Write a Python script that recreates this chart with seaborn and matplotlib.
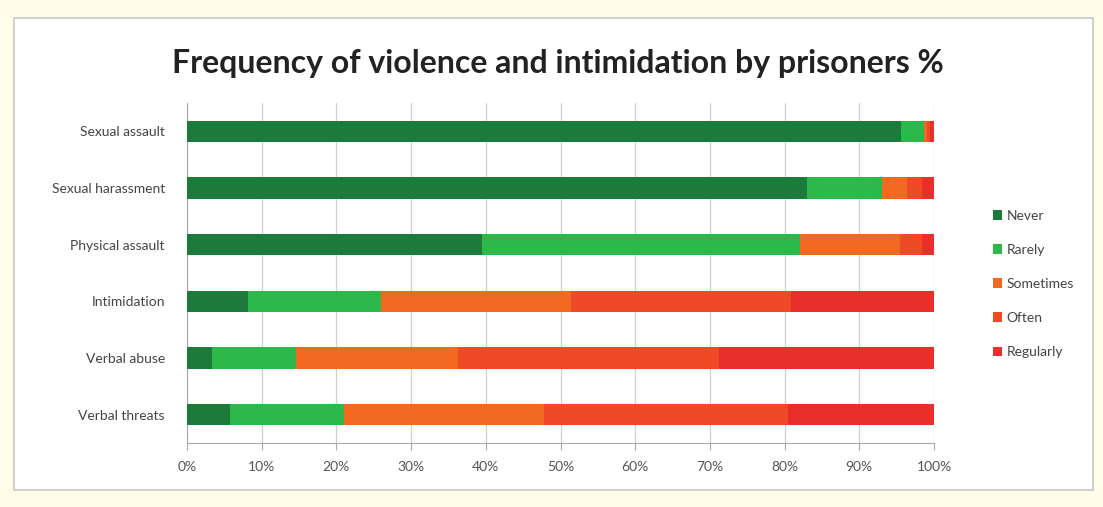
import matplotlib
matplotlib.use("Agg")
import matplotlib.pyplot as plt
from matplotlib.patches import Rectangle, Patch
import seaborn as sns
import pandas as pd
import numpy as np

categories = ["Sexual assault", "Sexual harassment", "Physical assault",
              "Intimidation", "Verbal abuse", "Verbal threats"]
levels = ["Never", "Rarely", "Sometimes", "Often", "Regularly"]
never = [95.6, 83.0, 39.5, 8.1, 3.3, 5.8]
rarely = [3.1, 10.0, 42.5, 17.9, 11.3, 15.2]
sometimes = [0.3, 3.4, 13.4, 25.4, 21.7, 26.8]
often = [0.4, 2.0, 3.0, 29.5, 34.9, 32.6]
regularly = [0.6, 1.6, 1.6, 19.1, 28.8, 19.6]
xtick_labels = ["0%", "10%", "20%", "30%", "40%", "50%", "60%", "70%", "80%", "90%", "100%"]

colors = ["#1c7b3b", "#2db84b", "#f26a22", "#ee4a25", "#e8302a"]

sns.set_style("white")
plt.rcParams["font.family"] = ["Lato", "DejaVu Sans"]

series = [never, rarely, sometimes, often, regularly]
cum = np.cumsum(np.array(series), axis=0)
df = pd.DataFrame({"category": categories})
for i, lv in enumerate(levels):
    df[lv] = cum[i]

fig = plt.figure(figsize=(11.03, 5.07), dpi=100)
fig.patch.set_facecolor("#fffde8")
box = Rectangle((14 / 1103, 1 - 490 / 507), (1093 - 14) / 1103, (490 - 18) / 507,
                transform=fig.transFigure, facecolor="white", edgecolor="#c8c8c8",
                linewidth=1.2, zorder=-10)
fig.patches.append(box)

ax = fig.add_axes([187 / 1103, 1 - 443 / 507, (934 - 187) / 1103, (443 - 103) / 507])
ax.set_zorder(5)
ax.patch.set_alpha(0)

for i in range(len(levels) - 1, -1, -1):
    sns.barplot(data=df, x=levels[i], y="category", order=categories, orient="h",
                color=colors[i], width=0.38, ax=ax, saturation=1, linewidth=0,
                zorder=3)

ax.set_xlim(0, 100)
ax.set_ylim(5.5, -0.5)
ax.set_xticks(np.arange(0, 101, 10))
ax.set_xticklabels(xtick_labels, fontsize=10, color="#555555")
ax.set_yticks(range(len(categories)))
ax.set_yticklabels(categories, fontsize=10, color="#444444")
ax.set_xlabel("")
ax.set_ylabel("")
ax.grid(axis="x", color="#cfcfcf", linewidth=0.9, zorder=0)
ax.set_axisbelow(True)
for s in ["top", "right"]:
    ax.spines[s].set_visible(False)
ax.spines["left"].set_color("#aaaaaa")
ax.spines["bottom"].set_color("#aaaaaa")
ax.tick_params(axis="x", length=5, color="#aaaaaa", direction="out", pad=8, bottom=True)
ax.tick_params(axis="y", length=0, pad=16)

fig.text(558 / 1103, 1 - 63 / 507, "Frequency of violence and intimidation by prisoners %",
         ha="center", va="center", fontsize=23, fontweight="bold", color="#222222")

handles = [Patch(facecolor=c, edgecolor="none") for c in colors]
leg = fig.legend(handles, levels, loc="center left", bbox_to_anchor=(980 / 1103, 1 - 284 / 507),
                 frameon=False, fontsize=10, handlelength=0.7, handleheight=0.7,
                 handletextpad=0.3, labelspacing=1.6, labelcolor="#444444")

fig.savefig("out.png", dpi=100, facecolor=fig.get_facecolor())
